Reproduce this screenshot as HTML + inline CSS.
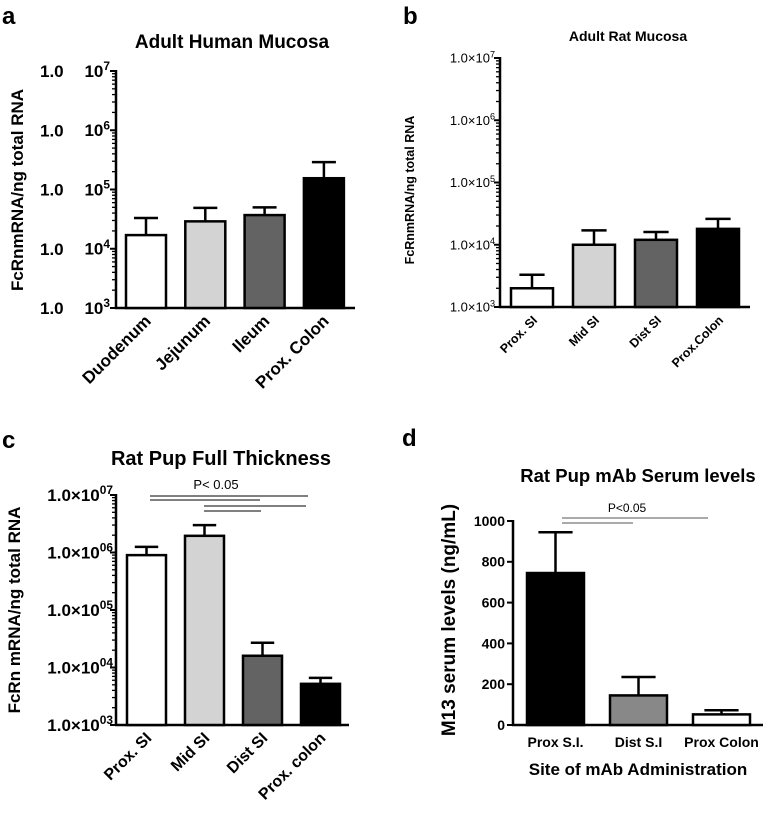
<!DOCTYPE html>
<html><head><meta charset="utf-8"><style>
body{margin:0;background:#fff}
svg{display:block;font-family:"Liberation Sans",Arial,sans-serif}
</style></head><body>
<svg id="fig" width="777" height="813" viewBox="0 0 777 813"></svg>
<script>
const aCats=["Duodenum","Jejunum","Ileum","Prox. Colon"];
const aVals=[1.7e4,2.9e4,3.7e4,1.55e5];
const aErr=[3.3e4,4.9e4,5.0e4,2.9e5];
const bCats=["Prox. SI","Mid SI","Dist SI","Prox.Colon"];
const bVals=[2.0e3,1.0e4,1.2e4,1.8e4];
const bErr=[3.3e3,1.7e4,1.6e4,2.6e4];
const cCats=["Prox. SI","Mid SI","Dist SI","Prox. colon"];
const cVals=[9e5,1.95e6,1.6e4,5.2e3];
const cErr=[1.25e6,3.0e6,2.7e4,6.6e3];
const dCats=["Prox S.I.","Dist S.I","Prox Colon"];
const dVals=[745,145,52];
const dErr=[945,235,72];
const dTicks=[0,200,400,600,800,1000];
const logTicks=[3,4,5,6,7];
const fills4=["#fff","#d3d3d3","#636363","#000"];
const fillsD=["#000","#888","#fff"];

const NS="http://www.w3.org/2000/svg";
const svg=document.getElementById('fig');
function el(tag,attrs,parent,text){const e=document.createElementNS(NS,tag);for(const k in attrs)e.setAttribute(k,attrs[k]);if(text!==undefined)e.textContent=text;(parent||svg).appendChild(e);return e;}

function panel(o){
  const g=el('g',{});
  
  
  const y=o.y;
  if(o.log){
    for(let d=o.min;d<o.max;d++)for(let m=2;m<10;m++){
      const yy=y(Math.pow(10,d)*m);
      el('line',{x1:o.ax-4,x2:o.ax,y1:yy,y2:yy,stroke:'#000','stroke-width':1.3},g);
    }
  }
  o.ticks.forEach((t,i)=>{
    const yy=o.log?y(Math.pow(10,t)):y(t);
    el('line',{x1:o.ax-6,x2:o.ax,y1:yy,y2:yy,stroke:'#000','stroke-width':2},g);
    const tx=el('text',{x:o.ax-(o.tickGap||8),y:yy+o.tickFs*0.35,'text-anchor':'end','font-size':o.tickFs,'font-weight':o.tickBold?'bold':'normal'},g);
    
    
    o.tickFmt(tx,t,yy);
  });
  const yax=el('line',{x1:o.ax,x2:o.ax,y1:o.top-1,y2:o.base+1,stroke:'#000','stroke-width':2.5},g);
  
  
  const xax=el('line',{x1:o.ax-1,x2:o.axEnd,y1:o.base,y2:o.base,stroke:'#000','stroke-width':2.5},g);
  
  
  o.vals.forEach((v,i)=>{
    const x0=o.bx0+i*o.step, w=o.bw, cx=x0+w/2;
    const yt=y(v), ye=y(o.err[i]);
    const eb=el('path',{d:`M${cx},${yt}V${ye}M${cx-w*0.3},${ye}H${cx+w*0.3}`,stroke:'#000','stroke-width':2.5,fill:'none'},g);
    
    
    const r=el('rect',{x:x0,y:yt,width:w,height:o.base-yt,fill:o.fills[i],stroke:'#000','stroke-width':2.5},g);
    
    
    let lab;
    if(o.rot){
      lab=el('text',{x:cx+6,y:o.base+14,'text-anchor':'end','font-size':o.catFs,'font-weight':'bold',transform:`rotate(-45 ${cx+6} ${o.base+14})`},g,o.cats[i]);
    }else{
      lab=el('text',{x:cx,y:o.base+22,'text-anchor':'middle','font-size':o.catFs,'font-weight':'bold'},g,o.cats[i]);
    }
    
    
  });
  return g;
}
function logY(top,base,min,max){return v=>base-(Math.log10(v)-min)/(max-min)*(base-top);}
function txt(x,y,s,fs,bold,anchor,name,rot){
  const t=el('text',{x:x,y:y,'font-size':fs,'font-weight':bold?'bold':'normal','text-anchor':anchor||'middle'},svg,s);
  if(rot)t.setAttribute('transform',`rotate(-90 ${x} ${y})`);
  
  
  return t;
}
function sup(tx,base,exp,fs){tx.appendChild(document.createTextNode(base));const s=document.createElementNS(NS,'tspan');s.setAttribute('dy',-fs*0.4);s.setAttribute('font-size',fs*0.7);s.textContent=exp;tx.appendChild(s);}

// Panel a
panel({name:'panel-a-chart',log:true,min:3,max:7,ticks:logTicks,y:logY(71,308,3,7),top:71,base:308,ax:116,axEnd:355,
 vals:aVals,err:aErr,cats:aCats,fills:fills4,bx0:126,step:59.3,bw:40,rot:true,catFs:17,tickFs:17,tickBold:true,tickGap:6,
 tickFmt:(tx,t,yy)=>{
   sup(tx,'10',String(t),17);
   const p=el('text',{x:40,y:yy+6,'font-size':17,'font-weight':'bold'},tx.parentNode,'1.0');
   
   
 }});
txt(232,48,'Adult Human Mucosa',19,true,'middle','chart-title-a');
txt(23,190,'FcRnmRNA/ng total RNA',17,true,'middle','y-axis-title-a',true);
txt(2,24,'a',24,true,'start','panel-label-a');

// Panel b
panel({name:'panel-b-chart',log:true,min:3,max:7,ticks:logTicks,y:logY(58,307,3,7),top:58,base:307,ax:500,axEnd:750,
 vals:bVals,err:bErr,cats:bCats,fills:fills4,bx0:511,step:62,bw:42,rot:true,catFs:12.5,tickFs:13,tickBold:false,tickGap:5,
 tickFmt:(tx,t)=>sup(tx,'1.0\u00d710',String(t),13)});
txt(628,41,'Adult Rat Mucosa',14,true,'middle','chart-title-b');
txt(414,190,'FcRnmRNA/ng total RNA',12.5,true,'middle','y-axis-title-b',true);
txt(403,24,'b',24,true,'start','panel-label-b');

// Panel c
panel({name:'panel-c-chart',log:true,min:3,max:7,ticks:logTicks,y:logY(495,725,3,7),top:495,base:725,ax:116,axEnd:349,
 vals:cVals,err:cErr,cats:cCats,fills:fills4,bx0:127,step:58,bw:39,rot:true,catFs:16,tickFs:17,tickBold:true,tickGap:3,
 tickFmt:(tx,t)=>sup(tx,'1.0\u00d710','0'+t,17)});
txt(221,465,'Rat Pup Full Thickness',20,true,'middle','chart-title-c');
txt(20,610,'FcRn mRNA/ng total RNA',17,true,'middle','y-axis-title-c',true);
txt(2,448,'c',24,true,'start','panel-label-c');
[[150,308,496],[150,260,500],[204,306,506],[204,261,511]].forEach(s=>{
  const l=el('line',{x1:s[0],x2:s[1],y1:s[2],y2:s[2],stroke:'#000','stroke-width':1});
  
  
});
txt(216,489,'P< 0.05',13,false,'middle','significance-label-c');

// Panel d
const dY=v=>725-v/1000*(725-521);
panel({name:'panel-d-chart',log:false,ticks:dTicks,y:dY,top:521,base:725,ax:513,axEnd:763,
 vals:dVals,err:dErr,cats:dCats,fills:fillsD,bx0:527,step:83,bw:57,rot:false,catFs:14,tickFs:14,tickBold:true,
 tickFmt:(tx,t)=>tx.textContent=t});
txt(638,482,'Rat Pup mAb Serum levels',18.5,true,'middle','chart-title-d');
txt(638,775,'Site of mAb Administration',17,true,'middle','x-axis-title-d');
txt(455,620,'M13 serum levels (ng/mL)',19,true,'middle','y-axis-title-d',true);
txt(402,446,'d',24,true,'start','panel-label-d');
[[562,708,518,'#555'],[562,633,523,'#555']].forEach(s=>{
  const l=el('line',{x1:s[0],x2:s[1],y1:s[2],y2:s[2],stroke:s[3],'stroke-width':1});
  
  
});
txt(627,512,'P<0.05',12,false,'middle','significance-label-d');
</script>
</body></html>
